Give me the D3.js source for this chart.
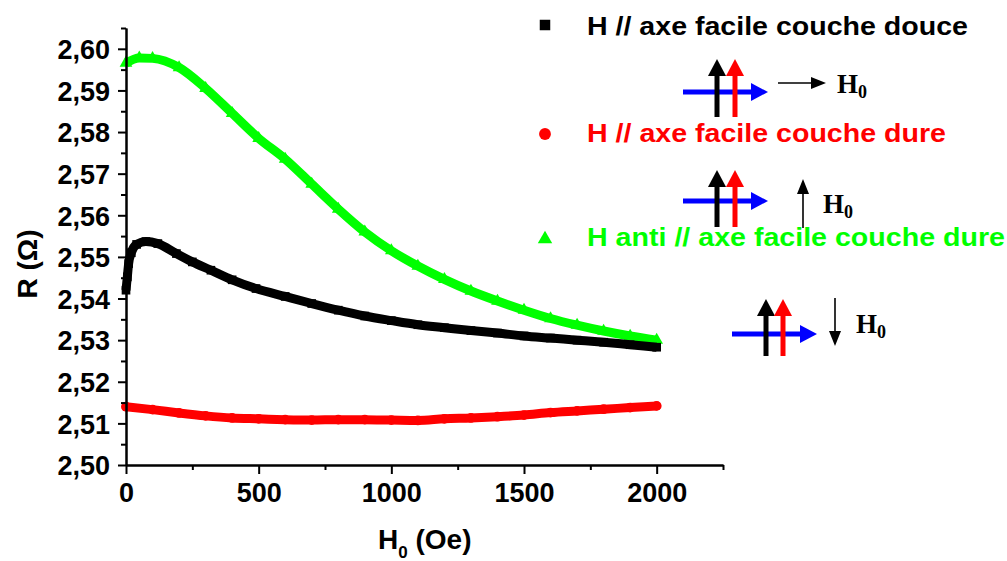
<!DOCTYPE html>
<html>
<head>
<meta charset="utf-8">
<script src="https://cdn.jsdelivr.net/npm/d3@7"></script>
<style>
  html, body { margin: 0; padding: 0; background: #fff; }
  svg { display: block; }
  text { font-family: "Liberation Sans", Arial, sans-serif; font-weight: bold; }
</style>
</head>
<body>
<svg id="chart" width="1007" height="561"></svg>
<script>
// ---------------- DATA ----------------
const xMajorTicks = [0, 500, 1000, 1500, 2000];
const xMinorTicks = [250, 750, 1250, 1750, 2250];
const xTickLabels = ["0", "500", "1000", "1500", "2000"];
const yMajorTicks = [2.50, 2.51, 2.52, 2.53, 2.54, 2.55, 2.56, 2.57, 2.58, 2.59, 2.60];
const yMinorTicks = [2.505, 2.515, 2.525, 2.535, 2.545, 2.555, 2.565, 2.575, 2.585, 2.595, 2.605];
const yTickLabels = ["2,50", "2,51", "2,52", "2,53", "2,54", "2,55", "2,56", "2,57", "2,58", "2,59", "2,60"];

const seriesNames = ["H // axe facile couche douce", "H // axe facile couche dure", "H anti // axe facile couche dure"];

// H // axe facile couche douce (black squares)
const softH = [0, 5, 10, 20, 40, 75, 120, 190, 250, 320, 400, 490, 600, 700, 800, 900, 1000, 1100, 1200, 1300, 1400, 1500, 1600, 1700, 1800, 1900, 2000];
const softR = [2.5420, 2.5452, 2.5484, 2.5510, 2.5530, 2.5537, 2.5532, 2.5508, 2.5488, 2.5468, 2.5445, 2.5424, 2.5405, 2.5388, 2.5372, 2.5358, 2.5347, 2.5337, 2.5330, 2.5323, 2.5317, 2.5310, 2.5305, 2.5300, 2.5295, 2.5289, 2.5283];

// H // axe facile couche dure (red circles)
const hardH = [0, 100, 200, 300, 400, 500, 600, 700, 800, 900, 1000, 1100, 1200, 1300, 1400, 1500, 1600, 1700, 1800, 1900, 2000];
const hardR = [2.5140, 2.5133, 2.5125, 2.5118, 2.5113, 2.5111, 2.5109, 2.5108, 2.5109, 2.5109, 2.5108, 2.5107, 2.5111, 2.5113, 2.5116, 2.5120, 2.5126, 2.5130, 2.5134, 2.5138, 2.5142];

// H anti // axe facile couche dure (green triangles)
const antiH = [0, 50, 100, 200, 300, 400, 500, 600, 700, 800, 900, 1000, 1100, 1200, 1300, 1400, 1500, 1600, 1700, 1800, 1900, 2000];
const antiR = [2.5966, 2.5978, 2.5977, 2.5955, 2.5905, 2.5845, 2.5785, 2.5735, 2.5675, 2.5615, 2.5560, 2.5515, 2.5478, 2.5446, 2.5418, 2.5394, 2.5372, 2.5352, 2.5336, 2.5322, 2.5310, 2.5300];

const seriesColors = ["#000000", "#ff0000", "#00ff00"];

// ---------------- CHART ----------------
const svg = d3.select("#chart");
const x = d3.scaleLinear().domain([0, 2250]).range([126, 723]);
const y = d3.scaleLinear().domain([2.50, 2.605]).range([465, 28]);

const series = [
  { name: seriesNames[0], H: softH, R: softR, color: seriesColors[0], symbol: d3.symbolSquare },
  { name: seriesNames[1], H: hardH, R: hardR, color: seriesColors[1], symbol: d3.symbolCircle },
  { name: seriesNames[2], H: antiH, R: antiR, color: seriesColors[2], symbol: d3.symbolTriangle }
];

// Data drawing (dense scatter appears as a thick band)
const line = d3.line().x(d => x(d[0])).y(d => y(d[1])).curve(d3.curveMonotoneX);
const drawOrder = [1, 2, 0];
drawOrder.forEach(i => {
  const s = series[i];
  const pts = s.H.map((h, k) => [h, s.R[k]]);
  const g = svg.append("g");
  g.append("path").datum(pts)
    .attr("d", line)
    .attr("fill", "none")
    .attr("stroke", s.color)
    .attr("stroke-width", 9)
    .attr("stroke-linecap", s.symbol === d3.symbolCircle ? "round" : "butt");
  g.selectAll("path.m").data(pts).enter().append("path")
    .attr("class", "m")
    .attr("transform", d => `translate(${x(d[0])},${y(d[1])})`)
    .attr("d", d3.symbol().type(s.symbol).size(s.symbol === d3.symbolTriangle ? 70 : 75))
    .attr("fill", s.color);
});

// Axes
const fs = 27;
const xAxisMajor = d3.axisBottom(x).tickValues(xMajorTicks).tickSize(9).tickSizeOuter(0)
  .tickFormat((d, i) => xTickLabels[i]);
const xAxisMinor = d3.axisBottom(x).tickValues(xMinorTicks).tickSize(5).tickSizeOuter(0).tickFormat("");
const yAxisMajor = d3.axisLeft(y).tickValues(yMajorTicks).tickSize(8).tickSizeOuter(0)
  .tickFormat((d, i) => yTickLabels[i]);
const yAxisMinor = d3.axisLeft(y).tickValues(yMinorTicks).tickSize(5).tickSizeOuter(0).tickFormat("");

const gxMin = svg.append("g").attr("transform", "translate(0,465)").call(xAxisMinor);
const gx = svg.append("g").attr("transform", "translate(0,465)").call(xAxisMajor);
const gyMin = svg.append("g").attr("transform", "translate(126,0)").call(yAxisMinor);
const gy = svg.append("g").attr("transform", "translate(126,0)").call(yAxisMajor);

[gx, gy, gxMin, gyMin].forEach(g => {
  g.selectAll("path.domain").attr("stroke", "#000").attr("stroke-width", 2);
  g.selectAll(".tick line").attr("stroke", "#000").attr("stroke-width", 2);
});
gx.selectAll(".tick text")
  .attr("y", 37).attr("dy", null)
  .attr("font-size", fs).attr("fill", "#000")
  .style("font-family", "'Liberation Sans', Arial, sans-serif").style("font-weight", "bold");
gy.selectAll(".tick text")
  .attr("x", -16).attr("dy", "0.36em")
  .attr("font-size", fs).attr("fill", "#000")
  .style("font-family", "'Liberation Sans', Arial, sans-serif").style("font-weight", "bold");

// Axis titles
const xt = svg.append("text").attr("x", 378).attr("y", 549).attr("font-size", 28).attr("fill", "#000");
xt.append("tspan").text("H");
xt.append("tspan").attr("font-size", 17).attr("dy", 9).text("0");
xt.append("tspan").attr("dy", -9).text(" (Oe)");

svg.append("text")
  .attr("transform", "translate(37,264) rotate(-90)")
  .attr("text-anchor", "middle")
  .attr("font-size", 28).attr("fill", "#000")
  .text("R (Ω)");

// Legend
const legY = [25, 134, 239];
const legBase = [35, 142, 246];
const legW = [381, 359, 418];
series.forEach((s, i) => {
  svg.append("path")
    .attr("transform", `translate(545,${legY[i]})`)
    .attr("d", d3.symbol().type(s.symbol).size(s.symbol === d3.symbolTriangle ? 90 : 110))
    .attr("fill", s.color);
  svg.append("text")
    .attr("x", 587).attr("y", legBase[i])
    .attr("font-size", 26).attr("fill", s.color)
    .attr("textLength", legW[i]).attr("lengthAdjust", "spacingAndGlyphs")
    .text(s.name);
});

// Magnetization sketches (annotations)
function arrow(g, x1, y1, x2, y2, color, w, headLen, headHalf) {
  const dx = x2 - x1, dy = y2 - y1;
  const L = Math.hypot(dx, dy);
  const ux = dx / L, uy = dy / L;
  const bx = x2 - ux * headLen, by = y2 - uy * headLen;
  g.append("line").attr("x1", x1).attr("y1", y1).attr("x2", bx).attr("y2", by)
    .attr("stroke", color).attr("stroke-width", w);
  g.append("path")
    .attr("d", `M${x2},${y2}L${bx - uy * headHalf},${by + ux * headHalf}L${bx + uy * headHalf},${by - ux * headHalf}Z`)
    .attr("fill", color);
}
function sketch(bx0, by0, blackX, redX, vTop, vBot) {
  const g = svg.append("g");
  arrow(g, bx0, by0, bx0 + 85, by0, "#0000ff", 5, 17, 9);
  arrow(g, blackX, vBot, blackX, vTop, "#000000", 5, 17, 9);
  arrow(g, redX, vBot, redX, vTop, "#ff0000", 5, 17, 9);
  return g;
}
function h0Label(g, lx, ly) {
  const t = g.append("text").attr("x", lx).attr("y", ly)
    .style("font-family", "'Liberation Serif', 'Times New Roman', serif")
    .attr("font-size", 27).attr("fill", "#000");
  t.append("tspan").text("H");
  t.append("tspan").attr("font-size", 18).attr("dy", 5).text("0");
}
const s1 = sketch(683, 92, 717, 735, 59, 117);
arrow(s1, 778, 83, 826, 83, "#000", 1.6, 15, 6);
h0Label(s1, 837, 93);

const s2 = sketch(683, 201, 717, 735, 170, 227);
arrow(s2, 803, 228, 803, 179, "#000", 1.6, 15, 6);
h0Label(s2, 823, 213);

const s3 = sketch(732, 334, 766, 783, 299, 356);
arrow(s3, 835, 298, 835, 346, "#000", 1.6, 15, 6);
h0Label(s3, 856, 333);
</script>
</body>
</html>
